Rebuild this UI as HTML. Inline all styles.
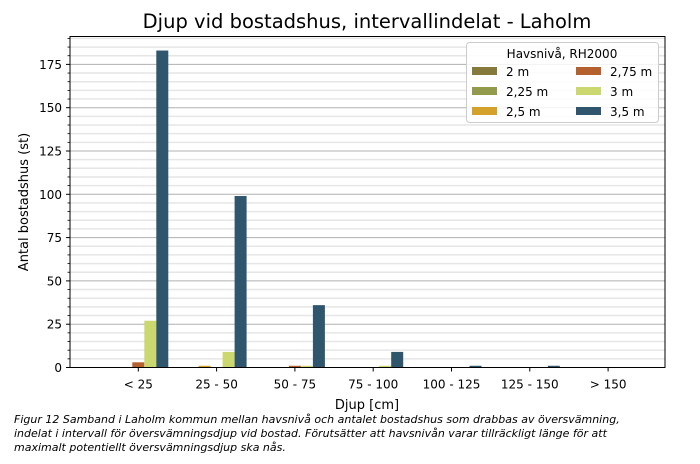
<!DOCTYPE html>
<html><head><meta charset="utf-8"><style>
body{margin:0;background:#fff;font-family:"Liberation Sans","DejaVu Sans",sans-serif}
svg text{font-family:"DejaVu Sans","Liberation Sans",sans-serif}
</style></head><body>
<svg id="c" width="700" height="459" xmlns="http://www.w3.org/2000/svg">
<text x="367" y="28" font-size="19.5" text-anchor="middle">Djup vid bostadshus, intervallindelat - Laholm</text>
<g id="grid"></g><g id="bars"></g><g id="axes"></g>
<text x="367" y="409" font-size="13" text-anchor="middle">Djup [cm]</text>
<text transform="translate(28,202) rotate(-90)" font-size="13" text-anchor="middle">Antal bostadshus (st)</text>
<g>
<rect x="466.5" y="42.5" width="192" height="80" rx="3" fill="#fff" fill-opacity="0.85" stroke="#ccc"/>
<text x="562" y="58" font-size="12" text-anchor="middle">Havsnivå, RH2000</text>
<g id="leg"></g>
</g>
<text x="14" y="423" font-size="11" font-style="italic"><tspan x="14">Figur 12 Samband i Laholm kommun mellan havsnivå och antalet bostadshus som drabbas av översvämning,</tspan><tspan x="14" dy="14">indelat i intervall för översvämningsdjup vid bostad. Förutsätter att havsnivån varar tillräckligt länge för att</tspan><tspan x="14" dy="14">maximalt potentiellt översvämningsdjup ska nås.</tspan></text>
</svg>
<script>
const categories=["< 25","25 - 50","50 - 75","75 - 100","100 - 125","125 - 150","> 150"];
const seriesNames=["2 m","2,25 m","2,5 m","2,75 m","3 m","3,5 m"];
const seriesColors=["#857a3c","#949a4c","#d4a22a","#b5602f","#cbd870","#2f566c"];
const s2=[0,0,0,0,0,0,0];
const s225=[0,0,0,0,0,0,0];
const s25=[0,1,0,0,0,0,0];
const s275=[3,0,1,0,0,0,0];
const s3=[27,9,1,1,0,0,0];
const s35=[183,99,36,9,1,1,0];
const yTicks=[0,25,50,75,100,125,150,175];
const series=[s2,s225,s25,s275,s3,s35];
const NS="http://www.w3.org/2000/svg";
const L=70,R=665,T=36.5,B=367.5,yMax=191.1;
const y=v=>B-v/yMax*(B-T);
const x=i=>138.3+i*78.3;
const bw=12;
function mk(tag,attrs,parent){const e=document.createElementNS(NS,tag);for(const k in attrs)e.setAttribute(k,attrs[k]);document.getElementById(parent).appendChild(e);return e;}
for(let v=5;v<yMax;v+=5){
 const major=v%25===0;
 const l=mk('line',{x1:L,x2:R,y1:y(v),y2:y(v),stroke:major?'#b0b0b0':'#e6e6e6','stroke-width':major?1:1.5},'grid');
 
 
 const t=mk('line',{x1:L-(major?4:2.5),x2:L,y1:y(v),y2:y(v),stroke:'#000','stroke-width':major?1:0.8},'axes');
 
 
}
series.forEach((s,si)=>{s.forEach((v,ci)=>{if(v<=0)return;
 const cx=x(ci)+(si-3)*bw;
 const r=mk('rect',{x:cx-bw/2,y:y(v),width:bw,height:B-y(v),fill:seriesColors[si]},'bars');
 
 
});});
const fr=mk('rect',{x:L,y:T,width:R-L,height:B-T,fill:'none',stroke:'#000','stroke-width':1},'axes');


yTicks.forEach(v=>{
 const t=mk('text',{x:L-8,y:y(v)+4.5,'font-size':12,'text-anchor':'end'},'axes');t.textContent=v;
 
 
 if(v===0){mk('line',{x1:L-4,x2:L,y1:B,y2:B,stroke:'#000'},'axes');}
});
categories.forEach((c,i)=>{
 mk('line',{x1:x(i),x2:x(i),y1:B,y2:B+4,stroke:'#000'},'axes');
 const t=mk('text',{x:x(i),y:B+21,'font-size':12,'text-anchor':'middle'},'axes');t.textContent=c;
 
 
});
seriesNames.forEach((n,i)=>{
 const col=i<3?0:1,row=i%3;
 const lx=472+col*104,ly=67+row*20;
 const r=mk('rect',{x:lx,y:ly,width:25,height:8,fill:seriesColors[i]},'leg');
 
 
 const t=mk('text',{x:lx+34,y:ly+9,'font-size':12},'leg');t.textContent=n;
 
 
});
</script>
</body></html>
